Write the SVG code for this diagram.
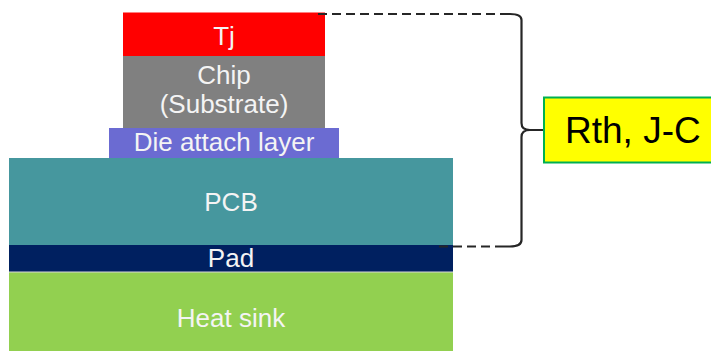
<svg xmlns="http://www.w3.org/2000/svg" width="711" height="351" viewBox="0 0 711 351">
<style>
.lbl{font-family:"Liberation Sans",Arial,sans-serif;font-size:26px;fill:#F4F4F4;text-anchor:middle}
.dash{fill:none;stroke:#262626;stroke-width:2.2;stroke-dasharray:9,5}
.brace{fill:none;stroke:#262626;stroke-width:2.2}
</style>
<rect width="711" height="351" fill="#FFFFFF"/>
<g id="heatsink">
<rect x="9" y="272" width="444" height="79" fill="#92D050"/>
<text class="lbl" x="231" y="327">Heat sink</text>
</g>
<g id="pad">
<rect x="9" y="245" width="444" height="27" fill="#002060"/>
<line x1="9" y1="272" x2="453" y2="272" stroke="#D9D9D9" stroke-width="1"/>
<text class="lbl" x="231" y="267">Pad</text>
</g>
<g id="pcb">
<rect x="9" y="158" width="444" height="87" fill="#46979E"/>
<text class="lbl" x="231" y="211">PCB</text>
</g>
<g id="die">
<rect x="109" y="128" width="230" height="30" fill="#6B6BD2"/>
<text class="lbl" x="224" y="151">Die attach layer</text>
</g>
<g id="chip">
<rect x="123" y="56" width="202" height="72" fill="#808080"/>
<text class="lbl" x="224" y="84">Chip</text>
<text class="lbl" x="224" y="113">(Substrate)</text>
</g>
<g id="tj">
<rect x="123" y="12.5" width="202" height="43.5" fill="#FF0000"/>
<text class="lbl" x="224" y="45">Tj</text>
</g>
<g id="connectors">
<line class="dash" x1="318" y1="14" x2="505" y2="14"/>
<line class="dash" x1="439" y1="246.5" x2="498" y2="246.5"/>
<path class="brace" d="M504,14 H510 Q521.5,14 521.5,20 V123 Q521.5,130 530,130 H544 M530,130 Q521.5,130 521.5,137 V240 Q521.5,246.5 510,246.5 H498"/>
</g>
<g id="rth">
<rect x="544" y="97.5" width="175" height="65" fill="#FFFF00" stroke="#00B050" stroke-width="2"/>
<text x="565" y="143" font-family="'Liberation Sans',Arial,sans-serif" font-size="37" fill="#000000">Rth, J-C</text>
</g>
</svg>
